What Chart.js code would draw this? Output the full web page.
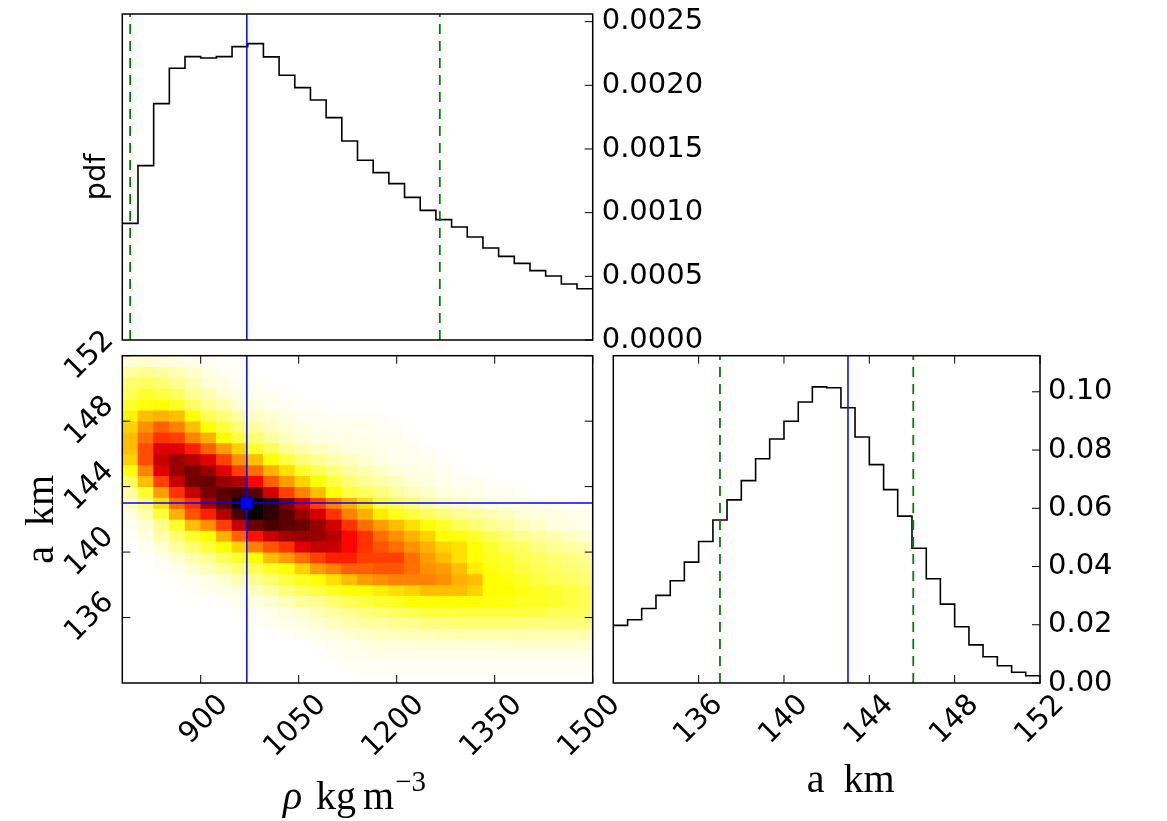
<!DOCTYPE html>
<html>
<head>
<meta charset="utf-8">
<script src="https://cdn.jsdelivr.net/npm/chart.js@4.4.0/dist/chart.umd.min.js"></script>
<style>
  html, body { margin: 0; padding: 0; background: #fff; }
  #page { position: relative; width: 1167px; height: 821px; overflow: hidden; background: #fff; }
  canvas { position: absolute; }
</style>
</head>
<body>
<div id="page">
  <canvas id="jointChart" width="640" height="521" style="left:0px;top:300px"></canvas>
  <canvas id="aHistChart" width="607" height="521" style="left:560px;top:300px"></canvas>
  <canvas id="rhoHistChart" width="800" height="390" style="left:0px;top:-20px"></canvas>
</div>
<script>
// bin edges (rho in kg m^-3, a in km)
const rhoEdges = [780, 804, 828, 852, 876, 900, 924, 948, 972, 996, 1020, 1044, 1068, 1092, 1116,
  1140, 1164, 1188, 1212, 1236, 1260, 1284, 1308, 1332, 1356, 1380, 1404, 1428, 1452, 1476, 1500];
const aEdges = [132, 132.67, 133.33, 134, 134.67, 135.33, 136, 136.67, 137.33, 138, 138.67, 139.33,
  140, 140.67, 141.33, 142, 142.67, 143.33, 144, 144.67, 145.33, 146, 146.67, 147.33, 148, 148.67,
  149.33, 150, 150.67, 151.33, 152];

// marginal pdfs
const rhoPdf = [0.000916, 0.001369, 0.001856, 0.002134, 0.002225, 0.002215, 0.002225, 0.002304,
  0.002327, 0.002223, 0.002079, 0.001982, 0.001885, 0.001746, 0.001563, 0.001411, 0.001314,
  0.001228, 0.001120, 0.001018, 0.000945, 0.000887, 0.000809, 0.000723, 0.000657, 0.000602,
  0.000545, 0.000503, 0.000440, 0.000403];
const aPdf = [0.0198, 0.0217, 0.0256, 0.0301, 0.0351, 0.0415, 0.0486, 0.0560, 0.0629, 0.0695,
  0.0770, 0.0838, 0.0899, 0.0965, 0.1017, 0.1014, 0.0945, 0.0845, 0.0750, 0.0664, 0.0573, 0.0463,
  0.0358, 0.0271, 0.0193, 0.0131, 0.0090, 0.0059, 0.0037, 0.0025];

// ticks and ranges
const rhoTicks = [900, 1050, 1200, 1350, 1500];
const aTicks = [136, 140, 144, 148, 152];
const rhoPdfTicks = [0, 0.0005, 0.001, 0.0015, 0.002, 0.0025];
const aPdfTicks = [0, 0.02, 0.04, 0.06, 0.08, 0.10];
const rhoRange = [780, 1500];
const aRange = [132, 152];
const rhoPdfMax = 0.00256;
const aPdfMax = 0.1124;

// best fit (blue) and credible interval (green dashed)
const rhoBest = 970.6;
const rhoInterval = [792, 1266];
const aBest = 143.0;
const aInterval = [137.0, 146.06];

// joint density in % of peak; rows from a = 152 (top) down to a = 132, columns rho 780 -> 1500
const jointDensity = [
  [4, 5, 4, 3, 2, 1.5, 0.7, 0, 0, 0, 0, 0, 0, 0, 0, 0, 0, 0, 0, 0, 0, 0, 0, 0, 0, 0, 0, 0, 0, 0],
  [9.5, 11, 9.5, 8, 5.5, 3, 1.5, 0.7, 0, 0, 0, 0, 0, 0, 0, 0, 0, 0, 0, 0, 0, 0, 0, 0, 0, 0, 0, 0, 0, 0],
  [14, 16, 14, 11, 8, 4.5, 3, 1.5, 0.7, 0, 0, 0, 0, 0, 0, 0, 0, 0, 0, 0, 0, 0, 0, 0, 0, 0, 0, 0, 0, 0],
  [17, 21, 19, 16, 11, 8, 4.5, 3, 1.5, 1.5, 0.7, 0, 0, 0, 0, 0, 0, 0, 0, 0, 0, 0, 0, 0, 0, 0, 0, 0, 0, 0],
  [21, 24, 25, 22, 16, 11, 8, 4.5, 3, 1.5, 1.5, 0.7, 0.7, 0, 0, 0, 0, 0, 0, 0, 0, 0, 0, 0, 0, 0, 0, 0, 0, 0],
  [27, 35, 37, 35, 25, 17, 13, 9.5, 6, 4.5, 3, 1.5, 1.5, 1, 1, 1, 0.5, 0, 0, 0, 0, 0, 0, 0, 0, 0, 0, 0, 0, 0],
  [32, 42, 49, 44, 35, 25, 19, 14, 9.5, 6, 4.5, 3, 2, 2, 2, 1.8, 1.2, 0.7, 0, 0, 0, 0, 0, 0, 0, 0, 0, 0, 0, 0],
  [35, 47, 56, 54, 44, 37, 25, 19, 14, 9.5, 6.5, 4.5, 3, 2.5, 2.3, 2.1, 1.5, 1.5, 0.7, 0, 0, 0, 0, 0, 0, 0, 0, 0, 0, 0],
  [35, 52, 68, 68, 59, 49, 40, 32, 21, 16, 11, 8, 6.5, 4.5, 3, 3, 2.1, 1.5, 1.5, 0.7, 0, 0, 0, 0, 0, 0, 0, 0, 0, 0],
  [32, 52, 72, 79, 75, 68, 54, 42, 35, 25, 19, 14, 11, 8, 6.5, 4.5, 3, 2.1, 1.5, 1.5, 0.7, 0, 0, 0, 0, 0, 0, 0, 0, 0],
  [24, 44, 68, 79, 84, 79, 68, 54, 47, 37, 30, 21, 17, 13, 9.5, 8, 5.5, 3.5, 3, 2.1, 1.5, 0.7, 0, 0, 0, 0, 0, 0, 0, 0],
  [16, 35, 54, 72, 84, 86, 79, 75, 63, 49, 40, 32, 25, 19, 14, 11, 8.7, 6.5, 4.5, 3, 2.1, 1.5, 1.5, 0.7, 0, 0, 0, 0, 0, 0],
  [9.5, 21, 40, 56, 72, 84, 88, 91, 88, 70, 54, 44, 35, 25, 19, 16, 13, 9.5, 7, 5.5, 3.5, 3, 2.1, 1.5, 1.5, 0.7, 0, 0, 0, 0],
  [6.5, 13, 30, 47, 56, 77, 88, 98, 100, 95, 84, 70, 54, 44, 37, 30, 19, 16, 13, 9.5, 7, 5.5, 4.5, 3, 2.1, 2.1, 1.5, 1.5, 0.7, 0.7],
  [2.5, 8, 19, 37, 51, 59, 75, 91, 100, 95, 88, 79, 70, 56, 44, 37, 28, 23, 19, 16, 13, 11, 9.5, 8, 6.5, 4.5, 3.5, 3, 2.1, 2.1],
  [1.5, 4.5, 11, 21, 35, 42, 54, 72, 86, 91, 88, 86, 79, 70, 56, 47, 40, 35, 30, 25, 21, 17, 14, 11, 9.5, 7, 5.5, 3.5, 3, 2.1],
  [0.7, 3, 8, 14, 21, 25, 37, 49, 61, 72, 77, 79, 79, 75, 63, 56, 47, 42, 37, 32, 25, 24, 21, 17, 14, 11, 9.5, 8, 6.5, 4.5],
  [0, 1.5, 4.5, 9.5, 14, 19, 25, 32, 44, 51, 56, 68, 72, 72, 63, 56, 51, 47, 42, 37, 32, 30, 25, 21, 17, 16, 13, 11, 9.5, 8],
  [0, 0, 1.5, 4.5, 8, 11, 16, 21, 25, 35, 40, 47, 54, 59, 59, 54, 54, 54, 47, 40, 35, 30, 25, 22, 21, 17, 16, 14, 13, 11],
  [0, 0, 0.7, 1.5, 4.5, 6.5, 9.5, 14, 17, 22, 25, 32, 40, 44, 49, 49, 51, 51, 47, 42, 40, 35, 28, 24, 22, 19, 17, 16, 14, 13],
  [0, 0, 0, 0.7, 1.5, 3, 4.5, 8, 11, 14, 19, 22, 25, 30, 35, 40, 42, 44, 44, 44, 42, 37, 35, 25, 24, 22, 19, 17, 16, 14],
  [0, 0, 0, 0, 0.7, 1.5, 2.1, 3.5, 6.5, 9.5, 13, 16, 19, 22, 25, 25, 28, 30, 32, 35, 35, 35, 32, 25, 25, 24, 22, 21, 19, 17],
  [0, 0, 0, 0, 0, 0, 0.7, 1.5, 3, 4.5, 7, 9.5, 11, 14, 17, 19, 21, 22, 25, 25, 25, 25, 25, 24, 24, 22, 22, 21, 19, 17],
  [0, 0, 0, 0, 0, 0, 0, 0.3, 1.5, 2.1, 3.5, 5, 7, 9.5, 11, 13, 14, 16, 17, 19, 19, 19, 19, 19, 19, 19, 19, 17, 17, 16],
  [0, 0, 0, 0, 0, 0, 0, 0, 0.7, 1.5, 2.1, 3, 4.5, 6.5, 8, 9.5, 9.5, 11, 11, 13, 13, 14, 14, 14, 14, 14, 13, 13, 13, 13],
  [0, 0, 0, 0, 0, 0, 0, 0, 0, 0, 0.7, 1.5, 2.1, 3, 4.5, 5.5, 6.5, 6.5, 7, 7, 7.5, 8, 8, 8, 8, 8, 8, 8, 8, 8],
  [0, 0, 0, 0, 0, 0, 0, 0, 0, 0, 0, 0, 0.7, 1.5, 2.1, 3, 3.5, 3.5, 3.5, 4, 4, 4, 4, 4, 4.5, 4.5, 4.5, 4.5, 4.5, 4.5],
  [0, 0, 0, 0, 0, 0, 0, 0, 0, 0, 0, 0, 0, 0.7, 1.5, 1.5, 2, 2, 2, 2, 2, 2, 2, 2, 2, 2, 2, 2, 2, 2],
  [0, 0, 0, 0, 0, 0, 0, 0, 0, 0, 0, 0, 0, 0, 0.7, 1, 1, 1, 1, 1, 1, 1, 1, 1, 1, 1, 1, 1, 1, 1],
  [0, 0, 0, 0, 0, 0, 0, 0, 0, 0, 0, 0, 0, 0, 0, 0.4, 0.4, 0.4, 0.4, 0.4, 0.4, 0.4, 0.4, 0.4, 0.4, 0.4, 0.4, 0.4, 0.4, 0.4]
];

const SANS = "'DejaVu Sans'";
const SERIF = "'Liberation Serif'";
const GREEN = '#008000';
const BLUE = '#0000ff';
Chart.defaults.font.family = SANS;
Chart.defaults.color = '#000';

// matplotlib "hot_r": white -> yellow -> red -> black
function hotR(v) {
  const t = 1 - Math.max(0, Math.min(1, v));
  const r = t < 0.365079 ? 0.0416 + 0.9584 * t / 0.365079 : 1;
  const g = t < 0.365079 ? 0 : (t < 0.746032 ? (t - 0.365079) / 0.380953 : 1);
  const b = t < 0.746032 ? 0 : (t - 0.746032) / 0.253968;
  return 'rgb(' + Math.round(r * 255) + ',' + Math.round(g * 255) + ',' + Math.round(b * 255) + ')';
}

function stepPoints(edges, vals) {
  const pts = vals.map((v, i) => ({ x: edges[i], y: v }));
  pts.push({ x: edges[edges.length - 1], y: vals[vals.length - 1] });
  return pts;
}

function vLine(x, y0, y1, color, dashed) {
  return {
    type: 'line', data: [{ x: x, y: y0 }, { x: x, y: y1 }],
    borderColor: color, borderWidth: dashed ? 1.8 : 1.5, borderDash: dashed ? [10, 7] : [],
    pointRadius: 0, order: 0, yAxisID: 'y'
  };
}

function fixTicks(values) {
  return scale => { scale.ticks = values.map(v => ({ value: v })); };
}

// box around the plot area with inward tick marks (matplotlib classic look)
const framePlugin = {
  id: 'frame',
  afterDraw(chart, args, opts) {
    const { ctx, chartArea: a } = chart;
    const len = 8;
    ctx.save();
    ctx.strokeStyle = '#000';
    ctx.lineWidth = 1;
    ctx.beginPath();
    ['top', 'bottom', 'left', 'right'].forEach(side => {
      const s = opts[side] ? chart.scales[opts[side]] : null;
      if (!s) return;
      s.ticks.forEach(t => {
        const p = s.getPixelForValue(t.value);
        if (side === 'top') { ctx.moveTo(p, a.top); ctx.lineTo(p, a.top + len); }
        if (side === 'bottom') { ctx.moveTo(p, a.bottom); ctx.lineTo(p, a.bottom - len); }
        if (side === 'left') { ctx.moveTo(a.left, p); ctx.lineTo(a.left + len, p); }
        if (side === 'right') { ctx.moveTo(a.right, p); ctx.lineTo(a.right - len, p); }
      });
    });
    ctx.stroke();
    ctx.lineWidth = 1.5;
    ctx.strokeRect(a.left, a.top, a.right - a.left, a.bottom - a.top);
    ctx.restore();
  }
};

// x axis labels set like the LaTeX original (italic symbol, superscript)
const rhoTitle = [
  { text: 'ρ', style: 'italic ', size: 40, gap: 0, rise: 0 },
  { text: 'kg', style: '', size: 40, gap: 14, rise: 0 },
  { text: 'm', style: '', size: 40, gap: 7, rise: 0 },
  { text: '−3', style: '', size: 29, gap: 1, rise: 18 }
];
const aTitle = [
  { text: 'a', style: '', size: 40, gap: 0, rise: 0 },
  { text: 'km', style: '', size: 40, gap: 19, rise: 0 }
];

function axisTitlePlugin(parts, shift, fromBottom) {
  return {
    id: 'axisTitle',
    afterDraw(chart) {
      const { ctx, chartArea: a } = chart;
      const baseline = chart.height - fromBottom;
      ctx.save();
      ctx.fillStyle = '#000';
      ctx.textBaseline = 'alphabetic';
      ctx.textAlign = 'left';
      const widths = parts.map(p => {
        ctx.font = p.style + p.size + 'px ' + SERIF;
        return ctx.measureText(p.text).width;
      });
      const total = parts.reduce((s, p, i) => s + p.gap + widths[i], 0);
      let x = (a.left + a.right) / 2 + shift - total / 2;
      parts.forEach((p, i) => {
        x += p.gap;
        ctx.font = p.style + p.size + 'px ' + SERIF;
        ctx.fillText(p.text, x, baseline - p.rise);
        x += widths[i];
      });
      ctx.restore();
    }
  };
}

const common = {
  responsive: false,
  animation: false,
  events: [],
};
const tickFont = { family: SANS, size: 29 };

// ---- top: rho marginal
new Chart(document.getElementById('rhoHistChart'), {
  type: 'line',
  data: {
    datasets: [
      vLine(rhoInterval[0], 0, rhoPdfMax, GREEN, true),
      vLine(rhoInterval[1], 0, rhoPdfMax, GREEN, true),
      vLine(rhoBest, 0, rhoPdfMax, BLUE, false),
      { data: stepPoints(rhoEdges, rhoPdf), borderColor: '#000', borderWidth: 1.6, stepped: 'before',
        pointRadius: 0, order: 1, yAxisID: 'y' }
    ]
  },
  options: Object.assign({}, common, {
    layout: { padding: { top: 34, bottom: 30, left: 0, right: 0 } },
    plugins: { legend: { display: false }, tooltip: { enabled: false }, frame: { right: 'y' } },
    scales: {
      x: { type: 'linear', min: rhoRange[0], max: rhoRange[1], display: false },
      y: {
        type: 'linear', position: 'right', min: 0, max: rhoPdfMax,
        grid: { display: false, drawTicks: false }, border: { display: false },
        afterBuildTicks: fixTicks(rhoPdfTicks),
        ticks: { font: tickFont, padding: 9, callback: v => v.toFixed(4) },
        afterFit: s => { s.width = 207.3; }
      },
      yl: {
        type: 'linear', axis: 'y', position: 'left', min: 0, max: 1,
        grid: { display: false, drawTicks: false }, border: { display: false },
        ticks: { display: false },
        title: { display: true, text: 'pdf', font: { family: SANS, size: 29 }, padding: { top: 80, bottom: 0 } },
        afterFit: s => { s.width = 122.3; }
      }
    }
  }),
  plugins: [framePlugin]
});

// ---- bottom left: joint density, one floating-bar row per a bin
const jointBars = jointDensity.map((row, r) => {
  const k = aEdges.length - 2 - r;
  return {
    type: 'bar',
    data: row.map((d, c) => ({ x: (rhoEdges[c] + rhoEdges[c + 1]) / 2, y: [aEdges[k], aEdges[k + 1]] })),
    backgroundColor: row.map(d => hotR(d / 100)),
    borderWidth: 0,
    grouped: false,
    barPercentage: 1,
    categoryPercentage: 1,
    order: 2
  };
});

new Chart(document.getElementById('jointChart'), {
  type: 'bar',
  data: {
    datasets: [
      { type: 'line', data: [{ x: rhoBest, y: aBest }], showLine: false, pointStyle: 'rect',
        pointRadius: 8.5, backgroundColor: BLUE, borderColor: '#000080', borderWidth: 1, order: 0 },
      vLine(rhoBest, aRange[0], aRange[1], BLUE, false),
      { type: 'line', data: [{ x: rhoRange[0], y: aBest }, { x: rhoRange[1], y: aBest }],
        borderColor: BLUE, borderWidth: 1.5, pointRadius: 0, order: 0 }
    ].concat(jointBars)
  },
  options: Object.assign({}, common, {
    layout: { padding: { top: 55.7, bottom: 0, left: 0, right: 47.3 } },
    plugins: { legend: { display: false }, tooltip: { enabled: false },
      frame: { top: 'x', bottom: 'x', left: 'y', right: 'y' } },
    scales: {
      x: {
        type: 'linear', min: rhoRange[0], max: rhoRange[1], offset: false,
        grid: { display: false, drawTicks: false, offset: false }, border: { display: false },
        afterBuildTicks: fixTicks(rhoTicks),
        ticks: { font: tickFont, minRotation: 45, maxRotation: 45, autoSkip: false, labelOffset: 23,
          padding: 5, callback: v => String(v) },
        afterFit: s => { s.height = 138; }
      },
      y: {
        type: 'linear', min: aRange[0], max: aRange[1],
        grid: { display: false, drawTicks: false }, border: { display: false },
        afterBuildTicks: fixTicks(aTicks),
        ticks: { font: tickFont, minRotation: 45, maxRotation: 45, autoSkip: false, labelOffset: -19.6,
          padding: 13, callback: v => String(v) },
        title: { display: true, text: 'a  km', font: { family: SERIF, size: 40 }, padding: { top: 18, bottom: 0 } },
        afterFit: s => { s.width = 122.3; }
      }
    }
  }),
  plugins: [framePlugin, axisTitlePlugin(rhoTitle, -3, 12)]
});

// ---- bottom right: a marginal
new Chart(document.getElementById('aHistChart'), {
  type: 'line',
  data: {
    datasets: [
      vLine(aInterval[0], 0, aPdfMax, GREEN, true),
      vLine(aInterval[1], 0, aPdfMax, GREEN, true),
      vLine(aBest, 0, aPdfMax, BLUE, false),
      { data: stepPoints(aEdges, aPdf), borderColor: '#000', borderWidth: 1.6, stepped: 'before',
        pointRadius: 0, order: 1, yAxisID: 'y' }
    ]
  },
  options: Object.assign({}, common, {
    layout: { padding: { top: 55.7, bottom: 0, left: 53.3, right: 0 } },
    plugins: { legend: { display: false }, tooltip: { enabled: false },
      frame: { top: 'x', bottom: 'x', right: 'y' } },
    scales: {
      x: {
        type: 'linear', min: aRange[0], max: aRange[1],
        grid: { display: false, drawTicks: false }, border: { display: false },
        afterBuildTicks: fixTicks(aTicks),
        ticks: { font: tickFont, minRotation: 45, maxRotation: 45, autoSkip: false, labelOffset: 19.6,
          padding: 5, callback: v => String(v) },
        afterFit: s => { s.height = 138; }
      },
      y: {
        type: 'linear', position: 'right', min: 0, max: aPdfMax,
        grid: { display: false, drawTicks: false }, border: { display: false },
        afterBuildTicks: fixTicks(aPdfTicks),
        ticks: { font: tickFont, padding: 8, callback: v => v.toFixed(2) },
        afterFit: s => { s.width = 127; }
      }
    }
  }),
  plugins: [framePlugin, axisTitlePlugin(aTitle, 24, 29)]
});
</script>
</body>
</html>
